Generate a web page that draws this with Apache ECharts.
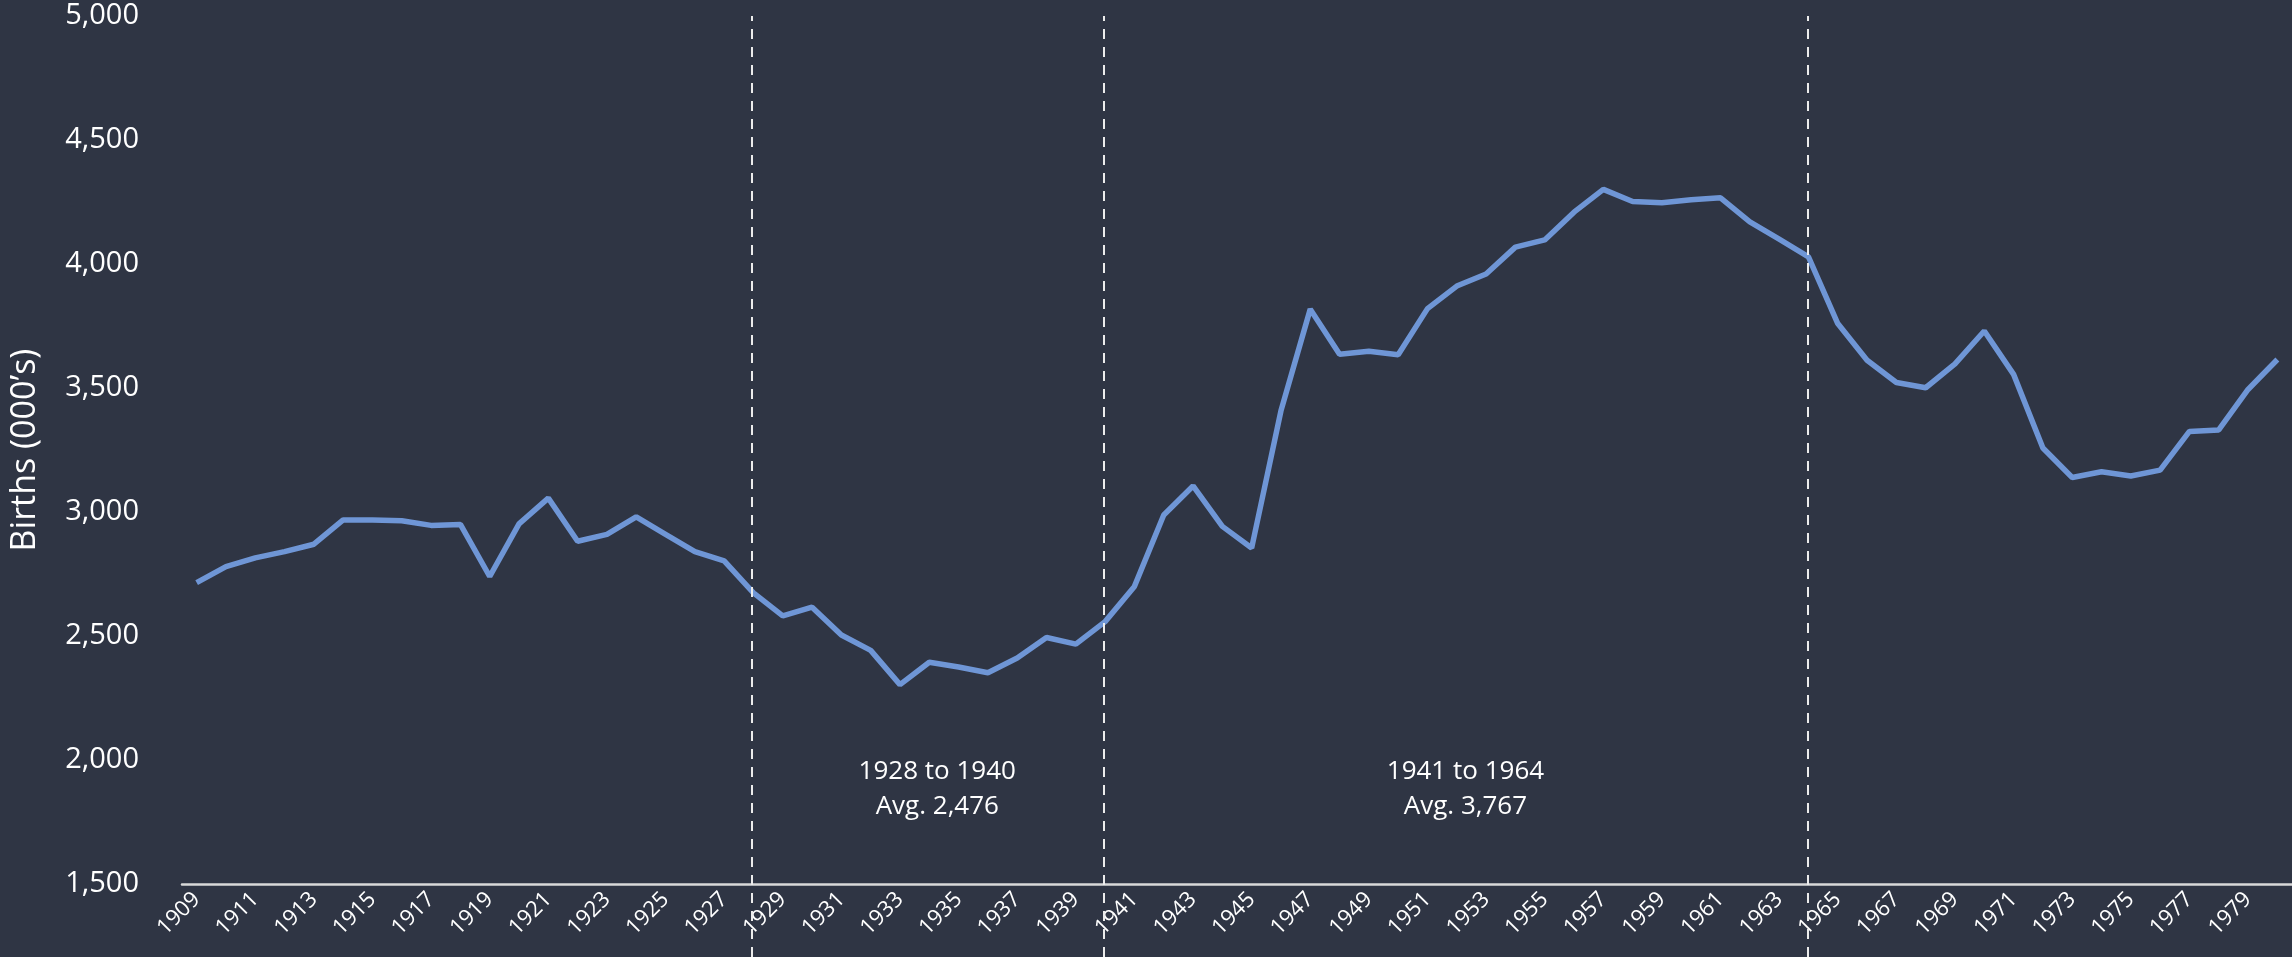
<!DOCTYPE html>
<html>
<head>
<meta charset="utf-8">
<script src="https://cdn.jsdelivr.net/npm/echarts@6/dist/echarts.min.js"></script>
<style>
  html, body { margin: 0; padding: 0; background: #2f3544; }
  #chart { width: 2292px; height: 957px; }
</style>
</head>
<body>
<div id="chart"></div>
<script>
// Annual births, thousands
const years = [
  '1909','1910','1911','1912','1913','1914','1915','1916','1917','1918',
  '1919','1920','1921','1922','1923','1924','1925','1926','1927','1928',
  '1929','1930','1931','1932','1933','1934','1935','1936','1937','1938',
  '1939','1940','1941','1942','1943','1944','1945','1946','1947','1948',
  '1949','1950','1951','1952','1953','1954','1955','1956','1957','1958',
  '1959','1960','1961','1962','1963','1964','1965','1966','1967','1968',
  '1969','1970','1971','1972','1973','1974','1975','1976','1977','1978',
  '1979','1980'
];
const births = [
  2715, 2780, 2815, 2840, 2870, 2968, 2968, 2965, 2946, 2950,
  2740, 2952, 3056, 2882, 2910, 2980, 2910, 2840, 2803, 2674,
  2581, 2616, 2504, 2442, 2304, 2394, 2375, 2352, 2411, 2494,
  2467, 2558, 2700, 2988, 3105, 2942, 2855, 3408, 3818, 3636,
  3648, 3634, 3820, 3911, 3960, 4068, 4097, 4209, 4301, 4252,
  4247, 4259, 4267, 4170, 4100, 4029, 3760, 3612, 3522, 3501,
  3597, 3730, 3555, 3258, 3139, 3162, 3145, 3169, 3325, 3331,
  3494, 3615
];

// Period boundaries and their averages
const dividerYears = ['1928', '1940', '1964'];
const periodStarts = ['1928', '1941'];
const periodEnds = ['1940', '1964'];
const periodAverages = ['2,476', '3,767'];

const FONT = "'Open Sans', 'Noto Sans', sans-serif";
const TEXT = '#ffffff';

const chart = echarts.init(document.getElementById('chart'), null, { renderer: 'canvas' });

const periodAreas = periodStarts.map((start, i) => [
  {
    xAxis: start,
    label: {
      formatter: start + ' to ' + periodEnds[i] + '\nAvg. ' + periodAverages[i],
      offset: i === 0 ? [8, 0] : [-6, 0]
    }
  },
  { xAxis: periodEnds[i] }
]);

chart.setOption({
  backgroundColor: '#2f3544',
  animation: false,
  textStyle: { fontFamily: FONT },
  grid: [
    { left: 180, right: 0, top: 16, bottom: 73, containLabel: false },
    { left: 180, right: 0, top: 16, bottom: 0, containLabel: false }
  ],
  xAxis: [
    {
      type: 'category',
      gridIndex: 0,
      data: years,
      boundaryGap: true,
      axisLine: { show: true, lineStyle: { color: '#d9d9d9', width: 2.5 } },
      axisTick: { show: false },
      axisLabel: {
        interval: 1,
        rotate: 45,
        margin: 12,
        color: TEXT,
        fontSize: 22,
        fontFamily: FONT
      },
      splitLine: { show: false }
    },
    {
      type: 'category',
      gridIndex: 1,
      data: years,
      boundaryGap: true,
      show: false
    }
  ],
  yAxis: [
    {
      type: 'value',
      gridIndex: 0,
      min: 1500,
      max: 5000,
      interval: 500,
      name: 'Births (000\u2019s)',
      nameLocation: 'middle',
      nameGap: 140,
      nameRotate: 90,
      nameTextStyle: { color: TEXT, fontSize: 34, fontFamily: FONT },
      axisLine: { show: false },
      axisTick: { show: false },
      splitLine: { show: false },
      axisLabel: {
        color: TEXT,
        fontSize: 29,
        margin: 43,
        fontFamily: FONT,
        formatter: v => v.toLocaleString('en-US')
      }
    },
    {
      type: 'value',
      gridIndex: 1,
      min: 0,
      max: 1,
      show: false
    }
  ],
  series: [
    {
      name: 'Births',
      type: 'line',
      xAxisIndex: 0,
      yAxisIndex: 0,
      data: births,
      showSymbol: false,
      symbol: 'none',
      lineStyle: { color: '#6f96d6', width: 5.5 },
      itemStyle: { color: '#6f96d6' },
      markArea: {
        silent: true,
        itemStyle: { color: 'rgba(0,0,0,0)' },
        label: {
          show: true,
          position: 'insideBottom',
          distance: 60,
          color: TEXT,
          fontSize: 26,
          lineHeight: 35,
          fontFamily: FONT,
          align: 'center'
        },
        data: periodAreas
      }
    },
    {
      name: 'Dividers',
      type: 'line',
      xAxisIndex: 1,
      yAxisIndex: 1,
      data: [],
      symbol: 'none',
      markLine: {
        silent: true,
        symbol: ['none', 'none'],
        label: { show: false },
        lineStyle: { color: '#ececec', width: 2, type: [10, 8] },
        data: dividerYears.map(y => ({ xAxis: y }))
      }
    }
  ]
});
</script>
</body>
</html>
